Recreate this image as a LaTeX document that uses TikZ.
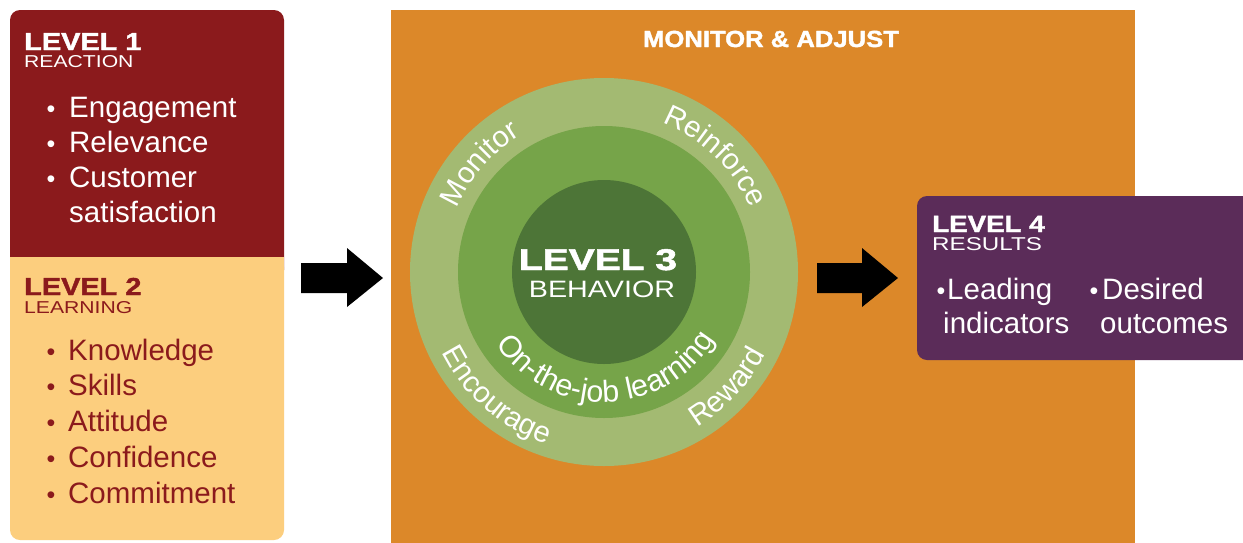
\documentclass[tikz,border=0pt]{standalone}
\usepackage{fontspec}
\setmainfont{Liberation Sans}
\newfontfamily\heavyfont[BoldFeatures={FakeBold=1.6}]{Liberation Sans}
\usepackage{graphicx}
\usetikzlibrary{decorations.text}
\definecolor{lvlred}{HTML}{8B1A1C}
\definecolor{lvlyellow}{HTML}{FCCE7E}
\definecolor{lvlorange}{HTML}{DC8829}
\definecolor{ringout}{HTML}{A3BA72}
\definecolor{ringmid}{HTML}{76A449}
\definecolor{ringin}{HTML}{4D7537}
\definecolor{lvlpurple}{HTML}{5B2C59}
\newcommand\hdtxt[3]{\scalebox{#1}[1]{\fontsize{#2}{#2}\selectfont #3}}
\newcommand\ringfont{\fontsize{29.5}{29.5}\selectfont}
\newcommand\ojtfont{\fontsize{30.5}{30.5}\selectfont}
\begin{document}
\begin{tikzpicture}[x=1pt,y=1pt,
  lbl/.style={anchor=base west, inner sep=0pt},
  itm/.style={anchor=base west, inner sep=0pt, font=\fontsize{29.5}{29.5}\selectfont},
  bulnode/.style={anchor=base, inner sep=0pt, font=\fontsize{25}{25}\selectfont},
  ringtxt/.style={decorate, decoration={text along path, text color=white, text align=center, text={|\ringfont|#1}}},
  ojttxt/.style={decorate, decoration={text along path, text color=white, text align=center, text={|\ojtfont|#1}}}
]
\useasboundingbox (0,0) rectangle (1243,-542);
\fill[white] (0,0) rectangle (1243,-542);
\begin{scope}
\clip (0,0) rectangle (1243,-542);
% left boxes
\fill[lvlred, rounded corners=10pt] (10,-10) rectangle (284,-280);
\fill[lvlyellow, rounded corners=10pt] (10,-257) rectangle (284,-540);
\fill[lvlyellow] (10,-257) rectangle (284,-290);
% orange box
\fill[lvlorange] (391,-10) rectangle (1135,-560);
% purple box
\fill[lvlpurple, rounded corners=10pt] (917,-196) rectangle (1270,-360);
\end{scope}
% arrows
\fill[black] (301,-263) -- (347,-263) -- (347,-248) -- (383,-278) -- (347,-307) -- (347,-293) -- (301,-293) -- cycle;
\fill[black] (817,-263) -- (862,-263) -- (862,-248) -- (898,-278) -- (862,-307) -- (862,-293) -- (817,-293) -- cycle;
% circles
\coordinate (c) at (604,-272);
\fill[ringout] (c) circle[radius=194];
\fill[ringmid] (c) circle[radius=146];
\fill[ringin] (c) circle[radius=92];
% ring texts
\path[ringtxt=Monitor] (c) ++(199:160) arc[start angle=199, end angle=79, radius=160];
\path[ringtxt=Reinforce] (c) ++(106:160) arc[start angle=106, end angle=-14, radius=160];
\path[ringtxt=Encourage] (c) ++(169:181) arc[start angle=169, end angle=289, radius=181];
\path[ringtxt=Reward] (c) ++(257:181) arc[start angle=257, end angle=377, radius=181];
\path[ojttxt=On-the-job learning] (c) ++(196:130) arc[start angle=196, end angle=346, radius=130];
% level 3
\node[anchor=base, inner sep=0pt, text=white] (l3a) at (598,-270) {\hdtxt{1.3}{30}{\heavyfont\bfseries LEVEL 3}};
\node[anchor=base, inner sep=0pt, text=white] (l3b) at (602,-297) {\hdtxt{1.21}{23.7}{BEHAVIOR}};
% monitor & adjust
\node[anchor=base, inner sep=0pt, text=white] (ma) at (771,-47) {\hdtxt{1.1}{23.3}{\heavyfont\bfseries MONITOR \& ADJUST}};
% level 1
\node[lbl, text=white] (l1a) at (24,-50) {\hdtxt{1.18}{24.5}{\heavyfont\bfseries LEVEL 1}};
\node[lbl, text=white] (l1b) at (24,-67) {\hdtxt{1.23}{17.2}{REACTION}};
\node[bulnode, text=white] (b11) at (51,-117) {\textbullet};
\node[itm, text=white] (i11) at (69,-117) {Engagement};
\node[bulnode, text=white] (b12) at (51,-152) {\textbullet};
\node[itm, text=white] (i12) at (69,-152) {Relevance};
\node[bulnode, text=white] (b13) at (51,-187) {\textbullet};
\node[itm, text=white] (i13) at (69,-187) {Customer};
\node[itm, text=white] (i14) at (69,-222) {satisfaction};
% level 2
\node[lbl, text=lvlred] (l2a) at (24,-295) {\hdtxt{1.18}{24.5}{\heavyfont\bfseries LEVEL 2}};
\node[lbl, text=lvlred] (l2b) at (24,-313) {\hdtxt{1.23}{17.2}{LEARNING}};
\node[bulnode, text=lvlred] (b21) at (51,-360) {\textbullet};
\node[itm, text=lvlred] (i21) at (68,-360) {Knowledge};
\node[bulnode, text=lvlred] (b22) at (51,-395) {\textbullet};
\node[itm, text=lvlred] (i22) at (68,-395) {Skills};
\node[bulnode, text=lvlred] (b23) at (51,-431) {\textbullet};
\node[itm, text=lvlred] (i23) at (68,-431) {Attitude};
\node[bulnode, text=lvlred] (b24) at (51,-467) {\textbullet};
\node[itm, text=lvlred] (i24) at (68,-467) {Confidence};
\node[bulnode, text=lvlred] (b25) at (51,-503) {\textbullet};
\node[itm, text=lvlred] (i25) at (68,-503) {Commitment};
% level 4
\node[lbl, text=white] (l4a) at (932,-232) {\hdtxt{1.18}{23.5}{\heavyfont\bfseries LEVEL 4}};
\node[lbl, text=white] (l4b) at (932,-250) {\hdtxt{1.3}{18.6}{RESULTS}};
\node[bulnode, text=white] (b41) at (941,-299) {\textbullet};
\node[itm, text=white] (i41) at (947,-299) {Leading};
\node[itm, text=white] (i42) at (943,-333) {indicators};
\node[bulnode, text=white] (b42) at (1094,-299) {\textbullet};
\node[itm, text=white] (i43) at (1102,-299) {Desired};
\node[itm, text=white] (i44) at (1100,-333) {outcomes};
\end{tikzpicture}
\end{document}
